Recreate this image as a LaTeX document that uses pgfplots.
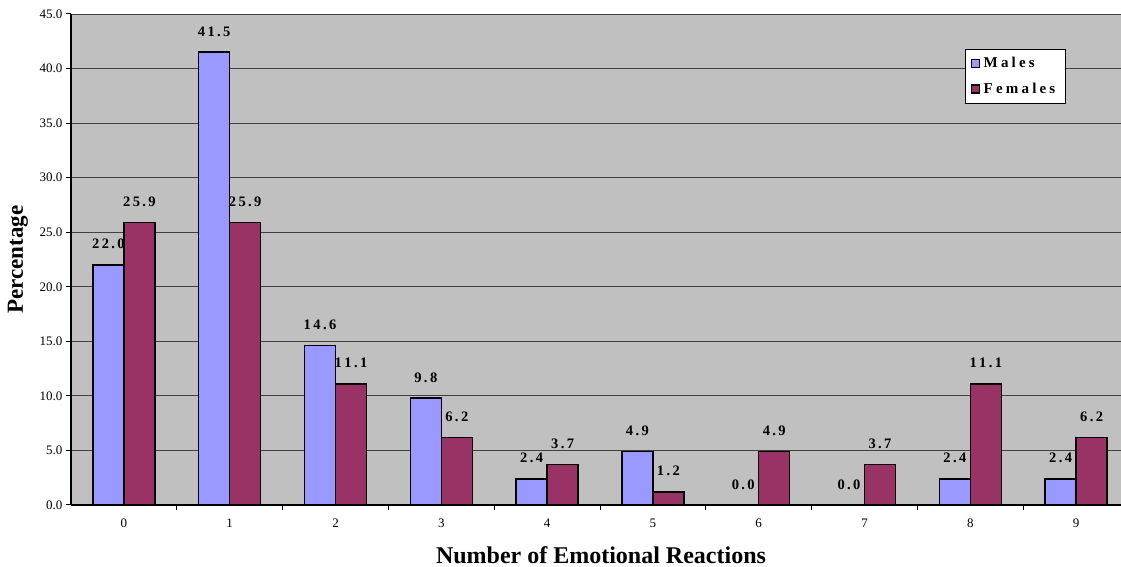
\documentclass[border=0pt]{standalone}
\usepackage{fontspec}
\setmainfont{Liberation Serif}
\usepackage{pgfplots}
\pgfplotsset{compat=1.18}

\definecolor{males}{HTML}{9999FF}
\definecolor{females}{HTML}{993366}
\definecolor{plotbg}{HTML}{C0C0C0}

% letter-spaced text, as in the value labels and the legend
\newdimen\lspkern \lspkern=1.2pt
\def\lsp#1{\lspaux#1\relax}
\def\lspaux#1{\ifx#1\relax\else\kern\lspkern#1\kern\lspkern\expandafter\lspaux\fi}

\begin{document}
\begin{tikzpicture}
\begin{axis}[
  name=ax,
  scale only axis,
  width=1050pt, height=491pt,
  xmin=-0.5, xmax=9.424,
  ymin=0, ymax=45,
  ybar=0pt, bar width=31pt,
  axis x line*=bottom, axis y line*=left,
  axis line style={line width=1.2pt},
  axis background/.style={fill=plotbg},
  ymajorgrids,
  grid style={black!75, line width=0.8pt},
  ytick={0,5,...,45},
  yticklabel style={/pgf/number format/.cd, fixed, fixed zerofill, precision=1},
  /pgf/number format/assume math mode=true,
  ticklabel style={font=\fontsize{13}{15}\selectfont},
  xticklabel style={yshift=-5pt},
  xtick={0,...,9},
  major x tick style={draw=none},
  minor xtick={0.5,1.5,...,8.5},
  tick align=outside,
  major tick length=5pt, minor tick length=5pt,
  tick style={black, line width=1pt},
  xlabel={Number of Emotional Reactions},
  xlabel style={font=\bfseries\fontsize{24}{28}\selectfont,
    at={(rel axis cs:0.5,0)}, anchor=center, yshift=-50pt, xshift=5pt},
  ylabel={Percentage},
  ylabel style={font=\bfseries\fontsize{23}{27}\selectfont,
    at={(rel axis cs:0,0.5)}, anchor=center, yshift=53pt},
  point meta=explicit symbolic,
  nodes near coords={\expandafter\lsp\expandafter{\pgfplotspointmeta}},
  every node near coord/.append style={font=\bfseries\fontsize{14.5}{17}\selectfont,
    inner sep=0pt, yshift=15pt, text=black},
  legend style={at={(rel axis cs:0.851,0.929)}, anchor=north west,
    draw=black, fill=white, line width=0.6pt,
    font=\bfseries\fontsize{15}{17}\selectfont,
    row sep=10pt, inner xsep=6pt, inner ysep=6pt},
  legend cell align=left,
  legend image code/.code={\draw[#1, line width=1.2pt] (0pt,-4pt) rectangle (8pt,4pt);},
]
\addplot[fill=males, draw=black, line width=1.5pt] coordinates {
  (0,22.0)[22.0] (1,41.5)[41.5] (2,14.6)[14.6] (3,9.8)[9.8] (4,2.4)[2.4]
  (5,4.9)[4.9] (6,0.0)[0.0] (7,0.0)[0.0] (8,2.4)[2.4] (9,2.4)[2.4]};
\addlegendentry{\lspkern=1.6pt\lsp{Males}}
\addplot[fill=females, draw=black, line width=1.5pt] coordinates {
  (0,25.9)[25.9] (1,25.9)[25.9] (2,11.1)[11.1] (3,6.2)[6.2] (4,3.7)[3.7]
  (5,1.2)[1.2] (6,4.9)[4.9] (7,3.7)[3.7] (8,11.1)[11.1] (9,6.2)[6.2]};
\addlegendentry{\lspkern=1.6pt\lsp{Females}}
\end{axis}
\pgfresetboundingbox
\path[use as bounding box] ([shift={(-71pt,-62pt)}]ax.south west)
  rectangle ([shift={(0pt,14pt)}]ax.north east);
\end{tikzpicture}
\end{document}
